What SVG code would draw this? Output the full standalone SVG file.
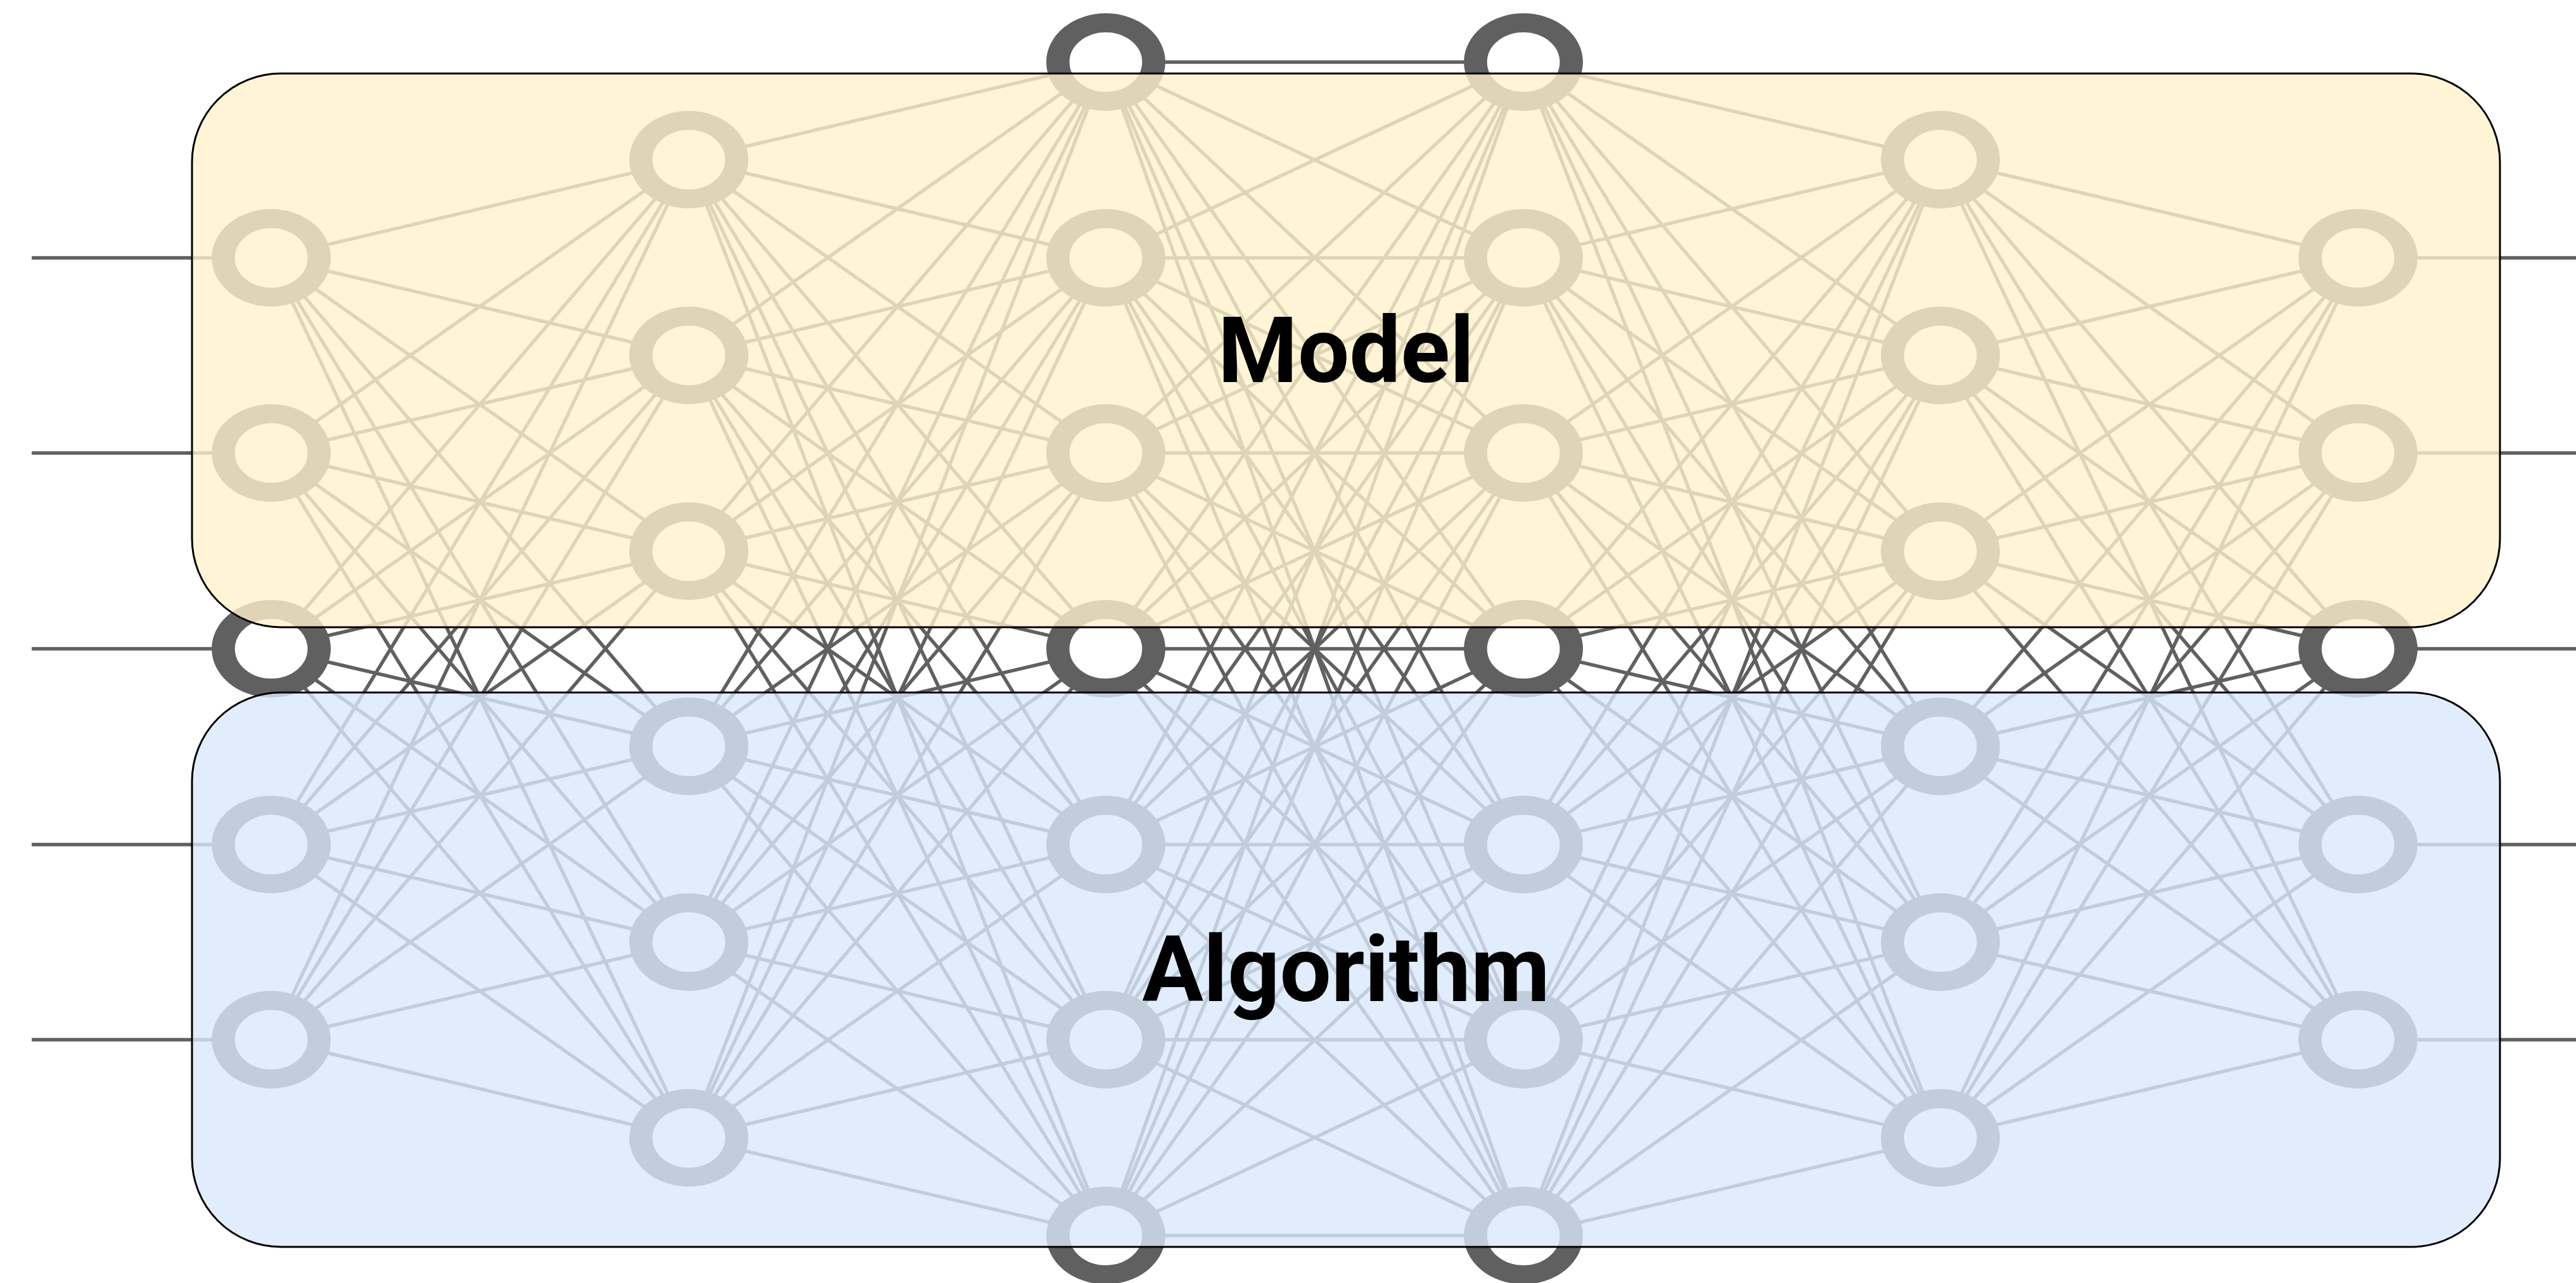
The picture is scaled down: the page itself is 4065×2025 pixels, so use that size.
<svg xmlns="http://www.w3.org/2000/svg" width="4065" height="2025" viewBox="0 0 4065 2025">
<style>
.e{stroke:#606060;stroke-width:5.5;fill:none;stroke-linecap:butt}
.n circle{fill:#fff;stroke:#606060;stroke-width:30}
.box{stroke:#000;stroke-width:3}
.lbl{font-family:Roboto,"Liberation Sans",sans-serif;font-weight:bold;font-size:144px;text-anchor:middle;fill:#000}
</style>
<rect width="4065" height="2025" fill="#fff"/>
<g id="connectors" class="e">
<path id="inputs" d="M50 407L428 407M50 715L428 715M50 1024L428 1024M50 1333L428 1333M50 1641L428 1641"/>
<path id="outputs" d="M3721 407L4065 407M3721 715L4065 715M3721 1024L4065 1024M3721 1333L4065 1333M3721 1641L4065 1641"/>
<path id="l1-l2" d="M428 407L1087 252M428 407L1087 561M428 407L1087 870M428 407L1087 1178M428 407L1087 1487M428 407L1087 1796
M428 715L1087 252M428 715L1087 561M428 715L1087 870M428 715L1087 1178M428 715L1087 1487M428 715L1087 1796
M428 1024L1087 252M428 1024L1087 561M428 1024L1087 870M428 1024L1087 1178M428 1024L1087 1487M428 1024L1087 1796
M428 1333L1087 252M428 1333L1087 561M428 1333L1087 870M428 1333L1087 1178M428 1333L1087 1487M428 1333L1087 1796
M428 1641L1087 252M428 1641L1087 561M428 1641L1087 870M428 1641L1087 1178M428 1641L1087 1487M428 1641L1087 1796"/>
<path id="l2-l3" d="M1087 252L1745 98M1087 252L1745 407M1087 252L1745 715M1087 252L1745 1024M1087 252L1745 1333M1087 252L1745 1641M1087 252L1745 1950
M1087 561L1745 98M1087 561L1745 407M1087 561L1745 715M1087 561L1745 1024M1087 561L1745 1333M1087 561L1745 1641M1087 561L1745 1950
M1087 870L1745 98M1087 870L1745 407M1087 870L1745 715M1087 870L1745 1024M1087 870L1745 1333M1087 870L1745 1641M1087 870L1745 1950
M1087 1178L1745 98M1087 1178L1745 407M1087 1178L1745 715M1087 1178L1745 1024M1087 1178L1745 1333M1087 1178L1745 1641M1087 1178L1745 1950
M1087 1487L1745 98M1087 1487L1745 407M1087 1487L1745 715M1087 1487L1745 1024M1087 1487L1745 1333M1087 1487L1745 1641M1087 1487L1745 1950
M1087 1796L1745 98M1087 1796L1745 407M1087 1796L1745 715M1087 1796L1745 1024M1087 1796L1745 1333M1087 1796L1745 1641M1087 1796L1745 1950"/>
<path id="l3-l4" d="M1745 98L2404 98M1745 98L2404 407M1745 98L2404 715M1745 98L2404 1024M1745 98L2404 1333M1745 98L2404 1641M1745 98L2404 1950
M1745 407L2404 98M1745 407L2404 407M1745 407L2404 715M1745 407L2404 1024M1745 407L2404 1333M1745 407L2404 1641M1745 407L2404 1950
M1745 715L2404 98M1745 715L2404 407M1745 715L2404 715M1745 715L2404 1024M1745 715L2404 1333M1745 715L2404 1641M1745 715L2404 1950
M1745 1024L2404 98M1745 1024L2404 407M1745 1024L2404 715M1745 1024L2404 1024M1745 1024L2404 1333M1745 1024L2404 1641M1745 1024L2404 1950
M1745 1333L2404 98M1745 1333L2404 407M1745 1333L2404 715M1745 1333L2404 1024M1745 1333L2404 1333M1745 1333L2404 1641M1745 1333L2404 1950
M1745 1641L2404 98M1745 1641L2404 407M1745 1641L2404 715M1745 1641L2404 1024M1745 1641L2404 1333M1745 1641L2404 1641M1745 1641L2404 1950
M1745 1950L2404 98M1745 1950L2404 407M1745 1950L2404 715M1745 1950L2404 1024M1745 1950L2404 1333M1745 1950L2404 1641M1745 1950L2404 1950"/>
<path id="l4-l5" d="M2404 98L3062 252M2404 98L3062 561M2404 98L3062 870M2404 98L3062 1178M2404 98L3062 1487M2404 98L3062 1796
M2404 407L3062 252M2404 407L3062 561M2404 407L3062 870M2404 407L3062 1178M2404 407L3062 1487M2404 407L3062 1796
M2404 715L3062 252M2404 715L3062 561M2404 715L3062 870M2404 715L3062 1178M2404 715L3062 1487M2404 715L3062 1796
M2404 1024L3062 252M2404 1024L3062 561M2404 1024L3062 870M2404 1024L3062 1178M2404 1024L3062 1487M2404 1024L3062 1796
M2404 1333L3062 252M2404 1333L3062 561M2404 1333L3062 870M2404 1333L3062 1178M2404 1333L3062 1487M2404 1333L3062 1796
M2404 1641L3062 252M2404 1641L3062 561M2404 1641L3062 870M2404 1641L3062 1178M2404 1641L3062 1487M2404 1641L3062 1796
M2404 1950L3062 252M2404 1950L3062 561M2404 1950L3062 870M2404 1950L3062 1178M2404 1950L3062 1487M2404 1950L3062 1796"/>
<path id="l5-l6" d="M3062 252L3721 407M3062 252L3721 715M3062 252L3721 1024M3062 252L3721 1333M3062 252L3721 1641
M3062 561L3721 407M3062 561L3721 715M3062 561L3721 1024M3062 561L3721 1333M3062 561L3721 1641
M3062 870L3721 407M3062 870L3721 715M3062 870L3721 1024M3062 870L3721 1333M3062 870L3721 1641
M3062 1178L3721 407M3062 1178L3721 715M3062 1178L3721 1024M3062 1178L3721 1333M3062 1178L3721 1641
M3062 1487L3721 407M3062 1487L3721 715M3062 1487L3721 1024M3062 1487L3721 1333M3062 1487L3721 1641
M3062 1796L3721 407M3062 1796L3721 715M3062 1796L3721 1024M3062 1796L3721 1333M3062 1796L3721 1641"/>
</g>
<g id="nodes">
<g id="n1-1" class="n" transform="translate(428 407) scale(1.22 1)"><circle r="62"/></g>
<g id="n1-2" class="n" transform="translate(428 715) scale(1.22 1)"><circle r="62"/></g>
<g id="n1-3" class="n" transform="translate(428 1024) scale(1.22 1)"><circle r="62"/></g>
<g id="n1-4" class="n" transform="translate(428 1333) scale(1.22 1)"><circle r="62"/></g>
<g id="n1-5" class="n" transform="translate(428 1641) scale(1.22 1)"><circle r="62"/></g>
<g id="n2-1" class="n" transform="translate(1087 252) scale(1.22 1)"><circle r="62"/></g>
<g id="n2-2" class="n" transform="translate(1087 561) scale(1.22 1)"><circle r="62"/></g>
<g id="n2-3" class="n" transform="translate(1087 870) scale(1.22 1)"><circle r="62"/></g>
<g id="n2-4" class="n" transform="translate(1087 1178) scale(1.22 1)"><circle r="62"/></g>
<g id="n2-5" class="n" transform="translate(1087 1487) scale(1.22 1)"><circle r="62"/></g>
<g id="n2-6" class="n" transform="translate(1087 1796) scale(1.22 1)"><circle r="62"/></g>
<g id="n3-1" class="n" transform="translate(1745 98) scale(1.22 1)"><circle r="62"/></g>
<g id="n3-2" class="n" transform="translate(1745 407) scale(1.22 1)"><circle r="62"/></g>
<g id="n3-3" class="n" transform="translate(1745 715) scale(1.22 1)"><circle r="62"/></g>
<g id="n3-4" class="n" transform="translate(1745 1024) scale(1.22 1)"><circle r="62"/></g>
<g id="n3-5" class="n" transform="translate(1745 1333) scale(1.22 1)"><circle r="62"/></g>
<g id="n3-6" class="n" transform="translate(1745 1641) scale(1.22 1)"><circle r="62"/></g>
<g id="n3-7" class="n" transform="translate(1745 1950) scale(1.22 1)"><circle r="62"/></g>
<g id="n4-1" class="n" transform="translate(2404 98) scale(1.22 1)"><circle r="62"/></g>
<g id="n4-2" class="n" transform="translate(2404 407) scale(1.22 1)"><circle r="62"/></g>
<g id="n4-3" class="n" transform="translate(2404 715) scale(1.22 1)"><circle r="62"/></g>
<g id="n4-4" class="n" transform="translate(2404 1024) scale(1.22 1)"><circle r="62"/></g>
<g id="n4-5" class="n" transform="translate(2404 1333) scale(1.22 1)"><circle r="62"/></g>
<g id="n4-6" class="n" transform="translate(2404 1641) scale(1.22 1)"><circle r="62"/></g>
<g id="n4-7" class="n" transform="translate(2404 1950) scale(1.22 1)"><circle r="62"/></g>
<g id="n5-1" class="n" transform="translate(3062 252) scale(1.22 1)"><circle r="62"/></g>
<g id="n5-2" class="n" transform="translate(3062 561) scale(1.22 1)"><circle r="62"/></g>
<g id="n5-3" class="n" transform="translate(3062 870) scale(1.22 1)"><circle r="62"/></g>
<g id="n5-4" class="n" transform="translate(3062 1178) scale(1.22 1)"><circle r="62"/></g>
<g id="n5-5" class="n" transform="translate(3062 1487) scale(1.22 1)"><circle r="62"/></g>
<g id="n5-6" class="n" transform="translate(3062 1796) scale(1.22 1)"><circle r="62"/></g>
<g id="n6-1" class="n" transform="translate(3721 407) scale(1.22 1)"><circle r="62"/></g>
<g id="n6-2" class="n" transform="translate(3721 715) scale(1.22 1)"><circle r="62"/></g>
<g id="n6-3" class="n" transform="translate(3721 1024) scale(1.22 1)"><circle r="62"/></g>
<g id="n6-4" class="n" transform="translate(3721 1333) scale(1.22 1)"><circle r="62"/></g>
<g id="n6-5" class="n" transform="translate(3721 1641) scale(1.22 1)"><circle r="62"/></g>
</g>
<g id="model">
<rect class="box" x="303" y="116" width="3642" height="874" rx="140" ry="140" fill="#fff2cc" fill-opacity="0.8"/>
<text class="lbl" x="2124" y="603">Model</text>
</g>
<g id="algorithm">
<rect class="box" x="303" y="1093" width="3642" height="875" rx="140" ry="140" fill="#dae8fc" fill-opacity="0.8"/>
<text class="lbl" x="2124" y="1580">Algorithm</text>
</g>
</svg>
